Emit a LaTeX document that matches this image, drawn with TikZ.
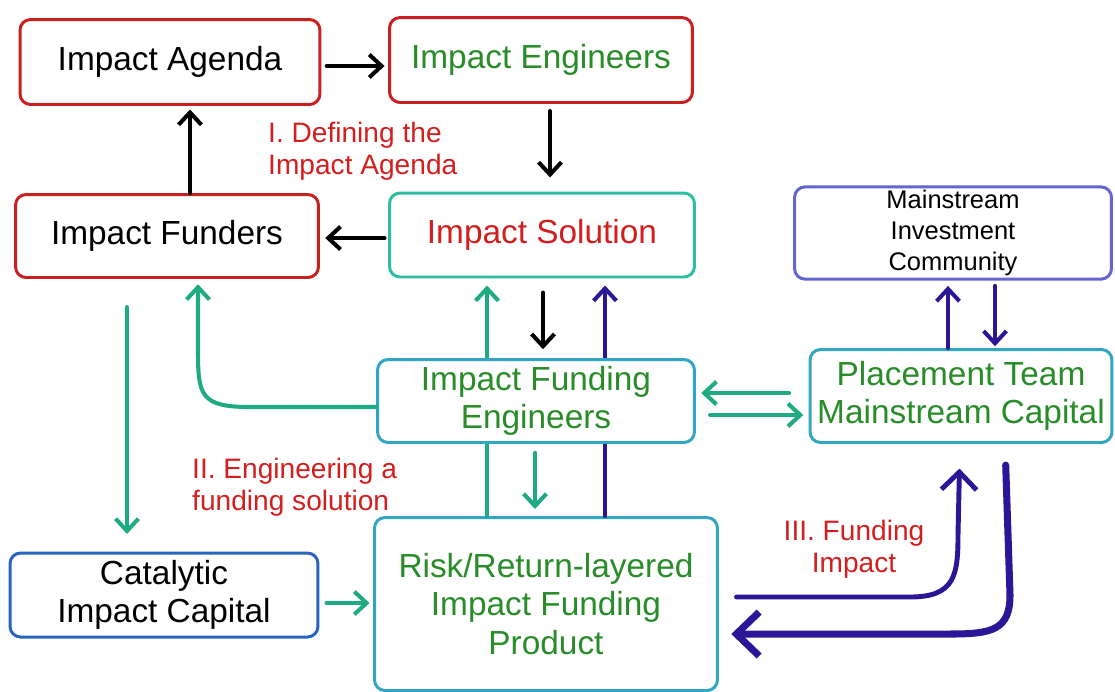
\documentclass[tikz,border=0pt]{standalone}
\usepackage{fontspec}
\setmainfont{Liberation Sans}
\usepackage{xcolor}
\usetikzlibrary{arrows.meta}
\definecolor{boxred}{RGB}{200,32,32}
\definecolor{textred}{RGB}{212,30,30}
\definecolor{textgreen}{RGB}{40,140,40}
\definecolor{flowteal}{RGB}{30,170,130}
\definecolor{solteal}{RGB}{45,190,160}
\definecolor{boxcyan}{RGB}{50,165,195}
\definecolor{flowindigo}{RGB}{42,22,150}
\definecolor{boxviolet}{RGB}{100,100,210}
\definecolor{boxblue}{RGB}{40,100,190}

\begin{document}
\begin{tikzpicture}[x=0.02cm,y=-0.02cm,
	box/.style={rectangle,rounded corners=6pt,line width=1.7pt,fill=white,align=center,inner sep=2pt,font=\fontsize{19}{22}\selectfont},
	note/.style={text=textred,font=\fontsize{16}{18}\selectfont},
	link/.style={line width=2.3pt,line cap=round,-{Straight Barb[length=7pt,width=13pt]}},
	biglink/.style={line width=2.8pt,line cap=round,-{Straight Barb[length=10pt,width=20pt]}},
	hugelink/.style={line width=4pt,line cap=round,-{Straight Barb[length=13pt,width=25pt]}}]
	\useasboundingbox (0,0) rectangle (1115,691);
	\node [box,draw=boxred,minimum width=6cm,minimum height=1.7cm] (agenda) at (170,62) {Impact Agenda};
	\node [box,draw=boxred,text=textgreen,minimum width=6.06cm,minimum height=1.7cm] (engineers) at (541,60) {Impact Engineers};
	\node [box,draw=boxred,minimum width=6.06cm,minimum height=1.66cm] (funders) at (167,236) {Impact Funders};
	\node [box,draw=solteal,text=textred,minimum width=6.1cm,minimum height=1.68cm] (solution) at (542,235) {Impact Solution};
	\node [box,draw=boxviolet,minimum width=6.34cm,minimum height=1.74cm,font=\fontsize{14.5}{17.5}\selectfont] (community) at (953,233) {Mainstream\\Investment\\Community};
	\node [box,draw=boxcyan,text=textgreen,minimum width=6.04cm,minimum height=1.86cm,inner sep=0pt] (placement) at (961,396) {Placement Team\\Mainstream Capital};
	\node [box,draw=boxblue,minimum width=6.16cm,minimum height=1.68cm] (catalytic) at (164,595) {Catalytic\\Impact Capital};
	\node [box,draw=boxcyan,text=textgreen,minimum width=6.86cm,minimum height=3.46cm] (product) at (546,604) {Risk/Return-layered\\Impact Funding\\Product};
	\draw [link,flowteal,shorten >=4pt] (product.north -| 487,0) -- (solution.south -| 487,0);
	\draw [link,flowindigo,shorten >=4pt] (product.north -| 605,0) -- (solution.south -| 605,0);
	\node [box,draw=boxcyan,text=textgreen,minimum width=6.34cm,minimum height=1.66cm] (fundeng) at (536,401) {Impact Funding\\Engineers};
	\draw [link,shorten <=3pt,shorten >=2pt] (agenda.east |- 0,66) -- (engineers.west |- 0,66);
	\draw [link,shorten <=4pt,shorten >=8pt] (engineers.south -| 550,0) -- (solution.north -| 550,0);
	\draw [link,shorten >=2pt] (funders.north -| 190,0) -- (agenda.south -| 190,0);
	\draw [link,shorten <=2pt,shorten >=3pt] (solution.west |- 0,238) -- (funders.east |- 0,238);
	\draw [link,shorten <=8pt,shorten >=5pt] (solution.south -| 543,0) -- (fundeng.north -| 543,0);
	\draw [link,flowteal,shorten <=5pt,shorten >=4pt] (fundeng.south -| 535,0) -- (product.north -| 535,0);
	\draw [link,flowteal,shorten >=3pt] (fundeng.west |- 0,407) -- (250,407) .. controls (200,407) and (198,395) .. (198,350) -- (funders.south -| 198,0);
	\draw [link,flowteal,shorten <=16pt,shorten >=10pt] (funders.south -| 127,0) -- (catalytic.north -| 127,0);
	\draw [link,flowteal,shorten <=4pt,shorten >=2pt] (catalytic.east |- 0,603) -- (product.west |- 0,603);
	\draw [link,flowteal,shorten <=11pt,shorten >=3pt] (placement.west |- 0,393) -- (fundeng.east |- 0,393);
	\draw [link,flowteal,shorten <=8pt,shorten >=3pt] (fundeng.east |- 0,415) -- (placement.west |- 0,415);
	\draw [link,flowindigo,shorten >=3pt] (placement.north -| 948,0) -- (community.south -| 948,0);
	\draw [link,flowindigo,shorten <=3pt,shorten >=1pt] (community.south -| 995,0) -- (placement.north -| 995,0);
	\draw [biglink,flowindigo,shorten <=10pt,shorten >=14pt] (product.east |- 0,597) -- (910,597) .. controls (955,597) and (958,575) .. (958,535) -- (placement.south -| 960,0);
	\draw [hugelink,flowindigo,shorten <=12pt,shorten >=7pt] (placement.south -| 1005,0) -- (1010,595) .. controls (1010,630) and (992,634) .. (950,634) -- (product.east |- 0,634);
	\node [note,align=left,anchor=west] (defining) at (262,151) {I. Defining the\\Impact Agenda};
	\node [note,align=left,anchor=west] (engineering) at (186,487) {II. Engineering a\\funding solution};
	\node [note,align=center] (funding) at (854,549) {III. Funding\\Impact};
\end{tikzpicture}
\end{document}
